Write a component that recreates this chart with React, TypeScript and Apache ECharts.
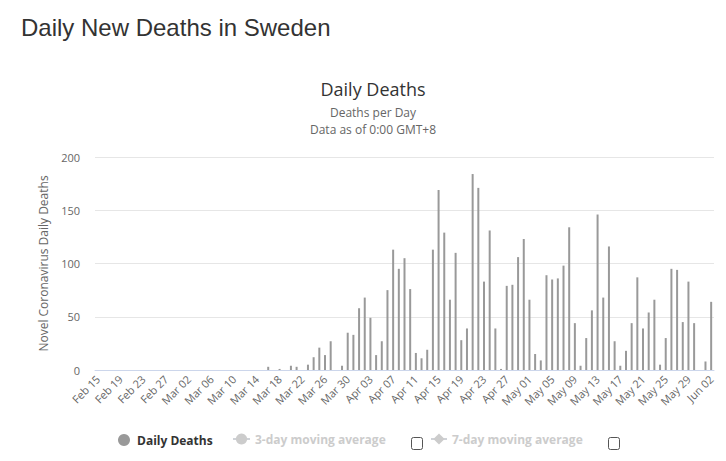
import React, { useEffect, useRef } from "react";
import * as echarts from "echarts";

// Month names and day counts used to build the daily category labels (Feb 15 – Jun 02, 2020)
const months: [string, number, number][] = [
  ["Feb", 15, 29],
  ["Mar", 1, 31],
  ["Apr", 1, 30],
  ["May", 1, 31],
  ["Jun", 1, 2],
];
const categories: string[] = [];
for (const [m, from, to] of months) {
  for (let d = from; d <= to; d++) categories.push(`${m} ${d < 10 ? "0" + d : d}`);
}

// Daily new deaths
const dailyDeaths: number[] = [
  0, 0, 0, 0, 0, 0, 0, 0, 0, 0, // Feb 15 - Feb 24
  0, 0, 0, 0, 0, 0, 0, 0, 0, 0, // Feb 25 - Mar 05
  0, 0, 0, 0, 0, 0, 0, 0, 0, 0, // Mar 06 - Mar 15
  3, 0, 1, 0, 4, 3, 0, 5, 12, 21, // Mar 16 - Mar 25
  14, 27, 0, 4, 35, 33, 58, 68, 49, 14, // Mar 26 - Apr 04
  27, 75, 113, 95, 105, 76, 16, 11, 19, 113, // Apr 05 - Apr 14
  169, 129, 66, 110, 28, 39, 184, 171, 83, 131, // Apr 15 - Apr 24
  39, 1, 79, 80, 106, 123, 66, 15, 9, 89, // Apr 25 - May 04
  85, 86, 98, 134, 44, 4, 30, 56, 146, 68, // May 05 - May 14
  116, 27, 4, 18, 44, 87, 39, 54, 66, 5, // May 15 - May 24
  30, 95, 94, 45, 83, 44, 0, 8, 64, // May 25 - Jun 02
];

const yTicks = { min: 0, max: 200, interval: 50 };
const seriesNames = ["Daily Deaths", "3-day moving average", "7-day moving average"];
const titleText = "Daily New Deaths in Sweden";
const chartTitle = "Daily Deaths";
const subtitleLines = ["Deaths per Day", "Data as of 0:00 GMT+8"];
const yAxisName = "Novel Coronavirus Daily Deaths";

const FONT = "'Open Sans', 'Noto Sans', sans-serif";

export default function App() {
  const ref = useRef<HTMLDivElement>(null);
  useEffect(() => {
    if (!ref.current) return;
    const chart = echarts.init(ref.current, undefined, { renderer: "svg" });
    const legendBase = {
      orient: "horizontal" as const,
      padding: 0,
      itemGap: 0,
      inactiveColor: "#cccccc",
      textStyle: { fontFamily: FONT, fontSize: 12, fontWeight: "bold" as const, color: "#333333" },
    };
    const subStyle = { fontFamily: FONT, fontSize: 12, fontWeight: "normal" as const, color: "#666666", lineHeight: 14 };
    chart.setOption({
      animation: false,
      backgroundColor: "#ffffff",
      title: [
        {
          text: titleText,
          left: 16,
          top: 10,
          padding: [5, 5, 5, 5],
          textStyle: { fontFamily: "'Liberation Sans', Arial, sans-serif", fontSize: 24, fontWeight: "normal", color: "#333333" },
        },
        {
          text: chartTitle,
          left: 373,
          textAlign: "center",
          top: 78,
          padding: 0,
          textStyle: { fontFamily: FONT, fontSize: 18, fontWeight: "normal", color: "#333333", lineHeight: 22 },
        },
        {
          text: subtitleLines[0],
          left: 373,
          textAlign: "center",
          top: 105,
          padding: 0,
          textStyle: subStyle,
        },
        {
          text: subtitleLines[1],
          left: 373,
          textAlign: "center",
          top: 122,
          padding: 0,
          textStyle: subStyle,
        },
      ],
      legend: [
        {
          ...legendBase,
          left: 118,
          top: 434,
          itemWidth: 12,
          itemHeight: 12,
          icon: "circle",
          data: [seriesNames[0]],
          textStyle: { ...legendBase.textStyle, padding: [0, 0, 0, 2] },
        },
        {
          ...legendBase,
          left: 232,
          top: 433,
          itemWidth: 17,
          itemHeight: 14,
          data: [seriesNames[1]],
          selected: { [seriesNames[1]]: false },
        },
        {
          ...legendBase,
          left: 430,
          top: 433,
          itemWidth: 16,
          itemHeight: 14,
          data: [seriesNames[2]],
          selected: { [seriesNames[2]]: false },
        },
      ],
      grid: { left: 95, right: 12, top: 157, bottom: 91, containLabel: false },
      xAxis: {
        type: "category",
        data: categories,
        boundaryGap: true,
        axisLine: { show: true, lineStyle: { color: "#ccd6eb", width: 1 } },
        axisTick: { show: false },
        axisLabel: {
          interval: 3,
          rotate: 45,
          margin: 7,
          color: "#666666",
          fontFamily: FONT,
          fontSize: 11,
        },
        splitLine: { show: false },
      },
      yAxis: {
        type: "value",
        min: yTicks.min,
        max: yTicks.max,
        interval: yTicks.interval,
        name: yAxisName,
        nameLocation: "middle",
        nameGap: 46,
        nameRotate: 90,
        nameTextStyle: { color: "#666666", fontFamily: FONT, fontSize: 12 },
        axisLine: { show: false },
        axisTick: { show: false },
        axisLabel: { color: "#666666", fontFamily: FONT, fontSize: 11, margin: 15 },
        splitLine: { lineStyle: { color: "#e6e6e6", width: 1 } },
      },
      series: [
        {
          name: seriesNames[0],
          type: "bar",
          data: dailyDeaths,
          barWidth: 2,
          itemStyle: { color: "#999999" },
        },
        {
          name: seriesNames[1],
          type: "line",
          data: [],
          symbol: "circle",
          itemStyle: { color: "#999999" },
        },
        {
          name: seriesNames[2],
          type: "line",
          data: [],
          symbol: "diamond",
          itemStyle: { color: "#999999" },
        },
      ],
      graphic: [
        {
          type: "rect",
          shape: { x: 411.5, y: 437.5, width: 11, height: 12, r: 2 },
          style: { fill: "#ffffff", stroke: "#555555", lineWidth: 1 },
        },
        {
          type: "rect",
          shape: { x: 608.5, y: 437.5, width: 11, height: 12, r: 2 },
          style: { fill: "#ffffff", stroke: "#555555", lineWidth: 1 },
        },
      ],
    });
    return () => chart.dispose();
  }, []);
  return (
    <div
      ref={ref}
      style={{ position: "fixed", left: 0, top: 0, width: 726, height: 461, background: "#fff" }}
    />
  );
}
